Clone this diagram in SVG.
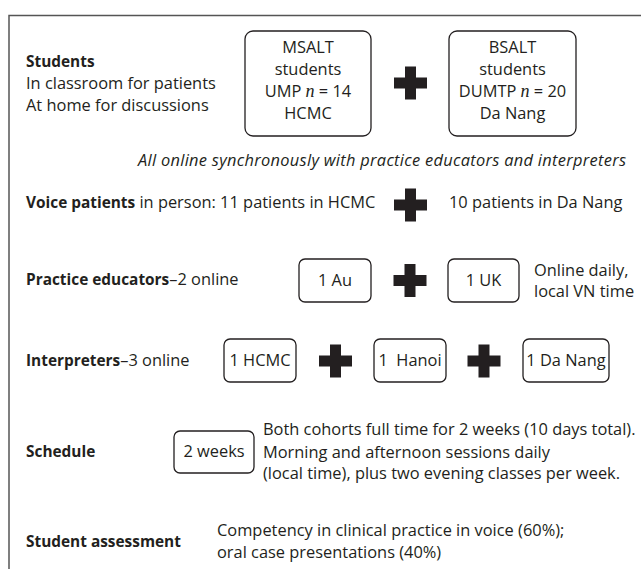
<svg xmlns="http://www.w3.org/2000/svg" width="641" height="569" viewBox="0 0 641 569">
<style>
text{font-family:"Open Sans","DejaVu Sans",sans-serif;font-size:16.4px;fill:#231f20}
.b{font-weight:bold;font-size:15.4px}
.c{text-anchor:middle}
.i{font-style:italic}
.n{font-family:"Liberation Serif",serif;font-style:italic;font-size:18px}
.box{fill:#fff;stroke:#231f20;stroke-width:1.3}
.plus{fill:#231f20}
</style>
<defs>
<path id="plus" class="plus" d="M-5.5,-16.5h11v11h11v11h-11v11h-11v-11h-11v-11h11z"/>
</defs>
<rect width="641" height="569" fill="#fff"/>
<g id="frame" fill="none" stroke="#555" stroke-width="1.5">
<path d="M9,569V15.5H641"/>
</g>
<g id="students-label">
<text x="26" y="67" class="b">Students</text>
<text x="26" y="89">In classroom for patients</text>
<text x="26" y="111">At home for discussions</text>
</g>
<g id="msalt">
<rect class="box" x="245" y="31" width="126" height="105" rx="8"/>
<text x="308" y="53" class="c">MSALT</text>
<text x="308" y="75" class="c">students</text>
<text x="308" y="97" class="c">UMP <tspan class="n">n</tspan> = 14</text>
<text x="308" y="119" class="c">HCMC</text>
</g>
<g id="bsalt">
<rect class="box" x="449" y="31" width="127" height="105" rx="8"/>
<text x="512.5" y="53" class="c">BSALT</text>
<text x="512.5" y="75" class="c">students</text>
<text x="512.5" y="97" class="c">DUMTP <tspan class="n">n</tspan> = 20</text>
<text x="512.5" y="119" class="c">Da Nang</text>
</g>
<g id="online-note">
<text x="138" y="166" class="i" textLength="488" lengthAdjust="spacing">All online synchronously with practice educators and interpreters</text>
</g>
<g id="voice-patients">
<text x="26" y="208"><tspan class="b">Voice patients</tspan> in person: 11 patients in HCMC</text>
<text x="449" y="208">10 patients in Da Nang</text>
</g>
<g id="practice-educators">
<text x="26" y="285"><tspan class="b">Practice educators</tspan>–2 online</text>
</g>
<g id="au">
<rect class="box" x="299" y="259" width="72" height="43" rx="6"/>
<text x="335" y="286" class="c">1 Au</text>
</g>
<g id="uk">
<rect class="box" x="448" y="259" width="71" height="43" rx="6"/>
<text x="483.5" y="286" class="c">1 UK</text>
</g>
<g id="online-daily">
<text x="534" y="276">Online daily,</text>
<text x="534" y="297">local VN time</text>
</g>
<g id="interpreters">
<text x="26" y="366"><tspan class="b">Interpreters</tspan>–3 online</text>
</g>
<g id="hcmc">
<rect class="box" x="224" y="339" width="72" height="43" rx="6"/>
<text x="260" y="366" class="c">1 HCMC</text>
</g>
<g id="hanoi">
<rect class="box" x="374" y="339" width="72" height="43" rx="6"/>
<text x="410" y="366" class="c" xml:space="preserve">1  Hanoi</text>
</g>
<g id="danang">
<rect class="box" x="523" y="339" width="86" height="43" rx="6"/>
<text x="566" y="366" class="c">1 Da Nang</text>
</g>
<g id="schedule">
<text x="26" y="457" class="b">Schedule</text>
</g>
<g id="two-weeks">
<rect class="box" x="174" y="431" width="80" height="42" rx="6"/>
<text x="214" y="457" class="c">2 weeks</text>
</g>
<g id="schedule-detail">
<text x="263" y="435">Both cohorts full time for 2 weeks (10 days total).</text>
<text x="263" y="458">Morning and afternoon sessions daily</text>
<text x="263" y="479">(local time), plus two evening classes per week.</text>
</g>
<g id="assessment">
<text x="26" y="547" class="b">Student assessment</text>
<text x="217" y="536">Competency in clinical practice in voice (60%);</text>
<text x="217" y="558">oral case presentations (40%)</text>
</g>
<g id="connectors">
<use href="#plus" x="410.5" y="83"/>
<use href="#plus" x="410.5" y="205"/>
<use href="#plus" x="410" y="280.5"/>
<use href="#plus" x="335.5" y="361"/>
<use href="#plus" x="484" y="361"/>
</g>
</svg>
